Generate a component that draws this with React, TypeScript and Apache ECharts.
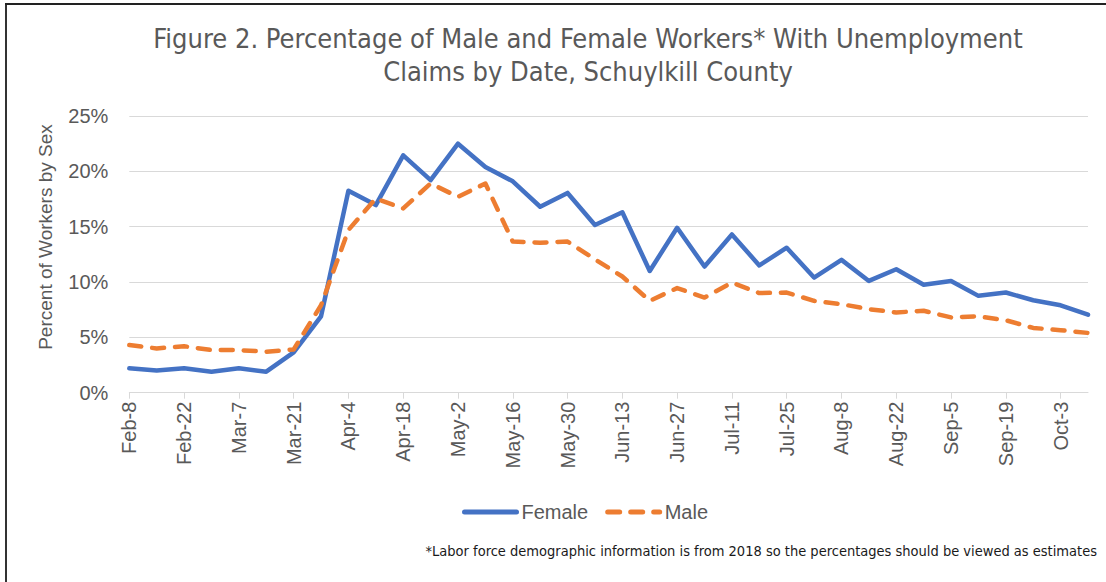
import React, { useEffect, useRef } from "react";
import * as echarts from "echarts";

const categories = [
  "Feb-8", "Feb-15", "Feb-22", "Feb-29", "Mar-7", "Mar-14", "Mar-21", "Mar-28",
  "Apr-4", "Apr-11", "Apr-18", "Apr-25", "May-2", "May-9", "May-16", "May-23",
  "May-30", "Jun-6", "Jun-13", "Jun-20", "Jun-27", "Jul-4", "Jul-11", "Jul-18",
  "Jul-25", "Aug-1", "Aug-8", "Aug-15", "Aug-22", "Aug-29", "Sep-5", "Sep-12",
  "Sep-19", "Sep-26", "Oct-3", "Oct-10",
];

const female = [
  2.2, 2.0, 2.2, 1.9, 2.2, 1.9, 3.65, 6.9, 18.25, 16.95, 21.45, 19.2,
  22.5, 20.4, 19.1, 16.8, 18.05, 15.15, 16.3, 11.0, 14.9, 11.4, 14.3, 11.5,
  13.1, 10.4, 12.0, 10.1, 11.15, 9.75, 10.1, 8.75, 9.05, 8.35, 7.9, 7.05,
];

const male = [
  4.3, 4.0, 4.2, 3.85, 3.85, 3.7, 3.9, 7.9, 14.7, 17.55, 16.65, 18.9,
  17.7, 18.9, 13.65, 13.55, 13.65, 12.05, 10.5, 8.3, 9.45, 8.6, 9.95, 9.0,
  9.05, 8.3, 8.0, 7.55, 7.25, 7.4, 6.8, 6.9, 6.55, 5.85, 5.65, 5.4,
];

const yTicks = { min: 0, max: 25, interval: 5 };

const titleLines = [
  "Figure 2. Percentage of Male and Female Workers* With Unemployment",
  "Claims by Date, Schuylkill County",
];
const yAxisName = "Percent of Workers by Sex";
const footnote =
  "*Labor force demographic information is from 2018 so the percentages should be viewed as estimates";

const CONDENSED = "'Liberation Sans Narrow', 'DejaVu Sans Condensed', sans-serif";
const SANS = "'Liberation Sans', Arial, sans-serif";

export default function App() {
  const ref = useRef<HTMLDivElement>(null);

  useEffect(() => {
    if (!ref.current) return;
    const chart = echarts.init(ref.current, null, { renderer: "svg" });
    chart.setOption({
      animation: false,
      backgroundColor: "#ffffff",
      grid: { left: 129.3, right: 18, top: 116, bottom: 189.3, containLabel: false },
      xAxis: {
        type: "category",
        data: categories,
        boundaryGap: false,
        axisLine: { show: true, lineStyle: { color: "#d9d9d9", width: 1 } },
        axisTick: { show: true, interval: 1, length: 6, lineStyle: { color: "#d9d9d9" } },
        axisLabel: {
          interval: 1,
          rotate: 90,
          margin: 9,
          fontSize: 20,
          color: "#595959",
          fontFamily: SANS,
        },
        splitLine: { show: false },
      },
      yAxis: {
        type: "value",
        min: yTicks.min,
        max: yTicks.max,
        interval: yTicks.interval,
        axisLine: { show: false },
        axisTick: { show: false },
        axisLabel: {
          formatter: "{value}%",
          fontSize: 20,
          color: "#595959",
          margin: 21,
          fontFamily: SANS,
        },
        splitLine: { show: true, lineStyle: { color: "#d9d9d9", width: 1 } },
      },
      legend: {
        top: 497,
        left: 457,
        itemWidth: 52,
        itemHeight: 14,
        itemGap: 17,
        itemStyle: { opacity: 0 },
        lineStyle: { width: 5, cap: "round" },
        textStyle: { fontSize: 20, color: "#595959", fontFamily: SANS },
        data: ["Female", "Male"],
      },
      series: [
        {
          name: "Female",
          type: "line",
          data: female,
          symbol: "none",
          lineStyle: { color: "#4472C4", width: 4.5, cap: "round", join: "round" },
          itemStyle: { color: "#4472C4" },
        },
        {
          name: "Male",
          type: "line",
          data: male,
          symbol: "none",
          lineStyle: { color: "#ED7D31", width: 4.5, type: [12, 11], cap: "round", join: "round" },
          itemStyle: { color: "#ED7D31" },
        },
      ],
      graphic: [
        {
          type: "text",
          x: 588,
          y: 38,
          style: {
            text: titleLines[0],
            fontSize: 27,
            fontFamily: CONDENSED,
            fill: "#595959",
            textAlign: "center",
            textVerticalAlign: "middle",
          },
        },
        {
          type: "text",
          x: 588,
          y: 71,
          style: {
            text: titleLines[1],
            fontSize: 27,
            fontFamily: CONDENSED,
            fill: "#595959",
            textAlign: "center",
            textVerticalAlign: "middle",
          },
        },
        {
          type: "text",
          x: 45,
          y: 237,
          rotation: Math.PI / 2,
          style: {
            text: yAxisName,
            fontSize: 19,
            fontFamily: SANS,
            fill: "#595959",
            textAlign: "center",
            textVerticalAlign: "middle",
          },
        },
        {
          type: "text",
          x: 1097,
          y: 551,
          style: {
            text: footnote,
            fontSize: 14.5,
            fontFamily: CONDENSED,
            fill: "#1a1a1a",
            textAlign: "right",
            textVerticalAlign: "middle",
          },
        },
        {
          type: "rect",
          left: 5,
          top: 3,
          shape: { x: 0, y: 0, width: 2, height: 579 },
          style: { fill: "#333333" },
          z: 100,
        },
        {
          type: "rect",
          left: 5,
          top: 3,
          shape: { x: 0, y: 0, width: 1101, height: 2 },
          style: { fill: "#222222" },
          z: 100,
        },
      ],
    });
    return () => chart.dispose();
  }, []);

  return (
    <div style={{ position: "absolute", left: 0, top: 0, width: 1106, height: 582 }}>
      <div ref={ref} style={{ width: 1106, height: 582 }} />
    </div>
  );
}
